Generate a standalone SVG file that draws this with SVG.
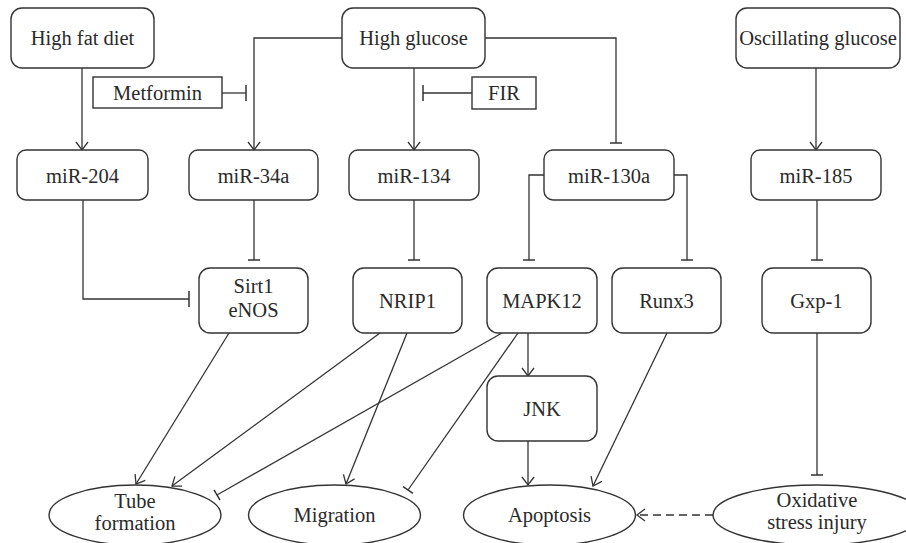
<svg xmlns="http://www.w3.org/2000/svg" width="906" height="543" viewBox="0 0 906 543">
<defs>
<marker id="arr" markerUnits="userSpaceOnUse" markerWidth="20" markerHeight="20" refX="0" refY="0" orient="auto" overflow="visible" viewBox="-10 -10 20 20">
<path d="M -8 -6 L 0 0 L -8 6" fill="none" stroke="#333" stroke-width="1.3"/>
</marker>
<marker id="bar" markerUnits="userSpaceOnUse" markerWidth="20" markerHeight="20" refX="0" refY="0" orient="auto" overflow="visible" viewBox="-10 -10 20 20">
<path d="M 0 -6 L 0 6" fill="none" stroke="#333" stroke-width="1.5"/>
</marker>
<marker id="bar2" markerUnits="userSpaceOnUse" markerWidth="20" markerHeight="20" refX="0" refY="0" orient="auto" overflow="visible" viewBox="-10 -10 20 20">
<path d="M 0 -8 L 0 8" fill="none" stroke="#333" stroke-width="1.5"/>
</marker>
</defs>
<style>
.box{fill:#fff;stroke:#333;stroke-width:1.4}
.t{font-family:"Liberation Serif","Times New Roman",serif;font-size:20.5px;fill:#2a2a2a;text-anchor:middle}
.c{fill:none;stroke:#333;stroke-width:1.3}
.a{marker-end:url(#arr)}
.i{marker-end:url(#bar)}
.i2{marker-end:url(#bar2)}
</style>
<rect width="906" height="543" fill="#fff"/>

<g id="connectors">
<path class="c a" d="M 82 68 L 82 150"/>
<path class="c a" d="M 342 38 L 254 38 L 254 150"/>
<path class="c i2" d="M 222 93 L 246 93"/>
<path class="c a" d="M 414 68 L 414 150"/>
<path class="c i2" d="M 472 93 L 423 93"/>
<path class="c i" d="M 485 38 L 616 38 L 616 143"/>
<path class="c a" d="M 816 68 L 816 150"/>
<path class="c i2" d="M 83 200 L 83 299 L 189 299"/>
<path class="c i" d="M 254 200 L 254 260"/>
<path class="c i" d="M 414 200 L 414 260"/>
<path class="c i" d="M 544 175 L 529 175 L 529 260"/>
<path class="c i" d="M 674 175 L 687 175 L 687 260"/>
<path class="c i" d="M 817 200 L 817 260"/>
<path class="c a" d="M 229 333 L 136 484"/>
<path class="c a" d="M 380 333 L 172 486"/>
<path class="c a" d="M 407 333 L 346 484"/>
<path class="c i" d="M 502 333 L 217 495"/>
<path class="c i" d="M 518 333 L 408 490"/>
<path class="c a" d="M 528 333 L 528 376"/>
<path class="c a" d="M 528 441 L 528 485"/>
<path class="c a" d="M 667 333 L 593 486"/>
<path class="c i" d="M 817 333 L 817 475"/>
<path class="c a" d="M 713 515 L 637 515" stroke-dasharray="8 5"/>
</g>

<g id="high-fat-diet"><rect class="box" x="11" y="8" width="143" height="60" rx="11"/><text class="t" x="82.5" y="45">High fat diet</text></g>
<g id="high-glucose"><rect class="box" x="342" y="8" width="143" height="60" rx="11"/><text class="t" x="413.5" y="45">High glucose</text></g>
<g id="oscillating-glucose"><rect class="box" x="736" y="8" width="164" height="60" rx="11"/><text class="t" x="818" y="45">Oscillating glucose</text></g>
<g id="metformin"><rect class="box" x="93" y="77" width="129" height="31"/><text class="t" x="157.5" y="100">Metformin</text></g>
<g id="fir"><rect class="box" x="472" y="77" width="64" height="32"/><text class="t" x="504" y="100">FIR</text></g>

<g id="mir-204"><rect class="box" x="17" y="150" width="131" height="50" rx="9"/><text class="t" x="82.5" y="182.5">miR-204</text></g>
<g id="mir-34a"><rect class="box" x="189" y="150" width="129" height="50" rx="9"/><text class="t" x="253.5" y="182.5">miR-34a</text></g>
<g id="mir-134"><rect class="box" x="349" y="150" width="130" height="50" rx="9"/><text class="t" x="414" y="182.5">miR-134</text></g>
<g id="mir-130a"><rect class="box" x="544" y="150" width="130" height="50" rx="9"/><text class="t" x="609" y="182.5">miR-130a</text></g>
<g id="mir-185"><rect class="box" x="751" y="150" width="130" height="50" rx="9"/><text class="t" x="816" y="182.5">miR-185</text></g>

<g id="sirt1-enos"><rect class="box" x="199" y="268" width="109" height="65" rx="11"/><text class="t" x="253.5" y="293">Sirt1</text><text class="t" x="253.5" y="317">eNOS</text></g>
<g id="nrip1"><rect class="box" x="353" y="268" width="109" height="65" rx="11"/><text class="t" x="407.5" y="308">NRIP1</text></g>
<g id="mapk12"><rect class="box" x="487" y="268" width="110" height="65" rx="11"/><text class="t" x="542" y="308">MAPK12</text></g>
<g id="runx3"><rect class="box" x="612" y="268" width="109" height="65" rx="11"/><text class="t" x="666.5" y="308">Runx3</text></g>
<g id="gxp-1"><rect class="box" x="762" y="268" width="109" height="65" rx="11"/><text class="t" x="816.5" y="308">Gxp-1</text></g>
<g id="jnk"><rect class="box" x="487" y="376" width="110" height="65" rx="11"/><text class="t" x="542" y="416">JNK</text></g>

<g id="tube-formation"><ellipse class="box" cx="135" cy="515" rx="86" ry="30"/><text class="t" x="135" y="508">Tube</text><text class="t" x="135" y="530">formation</text></g>
<g id="migration"><ellipse class="box" cx="334.5" cy="515" rx="86" ry="30"/><text class="t" x="334.5" y="522">Migration</text></g>
<g id="apoptosis"><ellipse class="box" cx="549.5" cy="515" rx="86" ry="30"/><text class="t" x="549.5" y="522">Apoptosis</text></g>
<g id="oxidative-stress-injury"><ellipse class="box" cx="817" cy="515" rx="104" ry="30"/><text class="t" x="817" y="507">Oxidative</text><text class="t" x="817" y="529">stress injury</text></g>
</svg>
